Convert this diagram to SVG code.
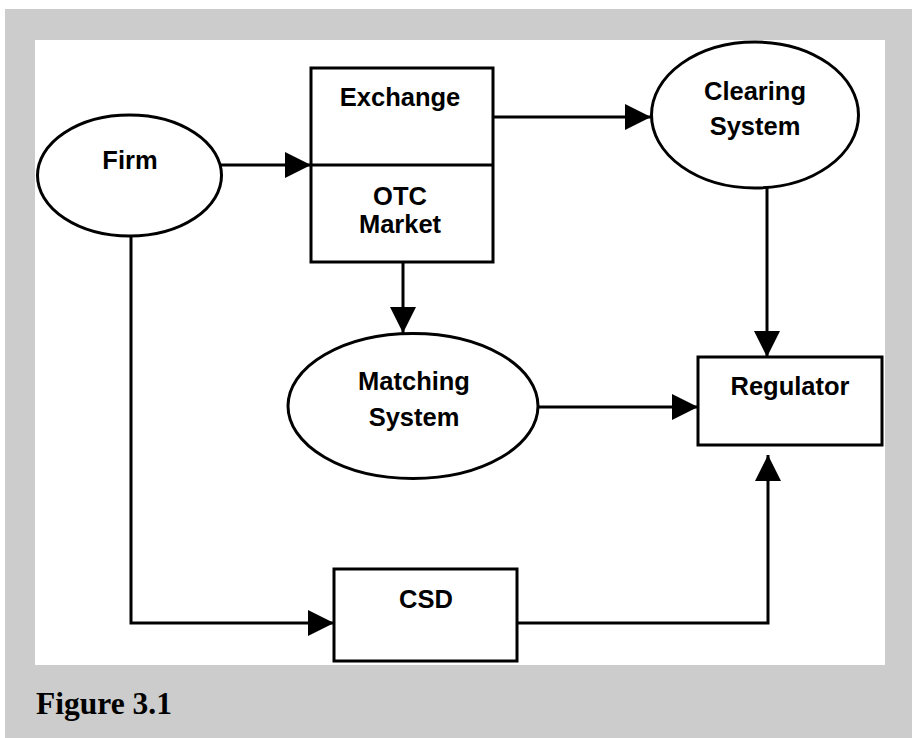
<svg xmlns="http://www.w3.org/2000/svg" width="912" height="738" viewBox="0 0 912 738">
<style>
.shape{fill:#fff;stroke:#000;stroke-width:3}
.lbl{font-family:"Liberation Sans",Arial,sans-serif;font-weight:bold;font-size:25.5px;text-anchor:middle;fill:#000}
.conn{fill:none;stroke:#000;stroke-width:3}
.cap{font-family:"Liberation Serif","Times New Roman",serif;font-weight:bold;font-size:31.5px;fill:#000}
</style>
<defs>
<marker id="arr" markerUnits="userSpaceOnUse" markerWidth="27" markerHeight="27" refX="26" refY="13" orient="auto">
<path d="M0,0 L26,13 L0,26 z" fill="#000"/>
</marker>
</defs>
<rect x="5" y="9" width="907" height="729" fill="#cccccc"/>
<rect x="35" y="40" width="850" height="625" fill="#fff"/>
<text class="cap" x="36" y="714">Figure 3.1</text>
<g id="connectors">
<path class="conn" d="M221,165 H311" marker-end="url(#arr)"/>
<path class="conn" d="M493,117 H651" marker-end="url(#arr)"/>
<path class="conn" d="M403,262 V333" marker-end="url(#arr)"/>
<path class="conn" d="M767,188 V357" marker-end="url(#arr)"/>
<path class="conn" d="M538,407 H698" marker-end="url(#arr)"/>
<path class="conn" d="M131,236 V623 H334" marker-end="url(#arr)"/>
<path class="conn" d="M517,623 H768 V455" marker-end="url(#arr)"/>
</g>
<g id="firm">
<ellipse class="shape" cx="129.5" cy="175.5" rx="92" ry="60.5"/>
<text class="lbl" x="130" y="169">Firm</text>
</g>
<g id="exchange">
<rect class="shape" x="311" y="68" width="182" height="194"/>
<line x1="311" y1="165" x2="493" y2="165" stroke="#000" stroke-width="3"/>
<text class="lbl" x="400" y="106">Exchange</text>
<text class="lbl" x="400" y="205">OTC</text>
<text class="lbl" x="400" y="233">Market</text>
</g>
<g id="clearing">
<ellipse class="shape" cx="755" cy="115" rx="103.5" ry="73"/>
<text class="lbl" x="755" y="100">Clearing</text>
<text class="lbl" x="755" y="135">System</text>
</g>
<g id="matching">
<ellipse class="shape" cx="413" cy="406" rx="125" ry="72.5"/>
<text class="lbl" x="414" y="390">Matching</text>
<text class="lbl" x="414" y="426">System</text>
</g>
<g id="regulator">
<rect class="shape" x="698" y="357" width="184" height="88"/>
<text class="lbl" x="790" y="395">Regulator</text>
</g>
<g id="csd">
<rect class="shape" x="334" y="569" width="183" height="92"/>
<text class="lbl" x="426" y="608">CSD</text>
</g>
</svg>
